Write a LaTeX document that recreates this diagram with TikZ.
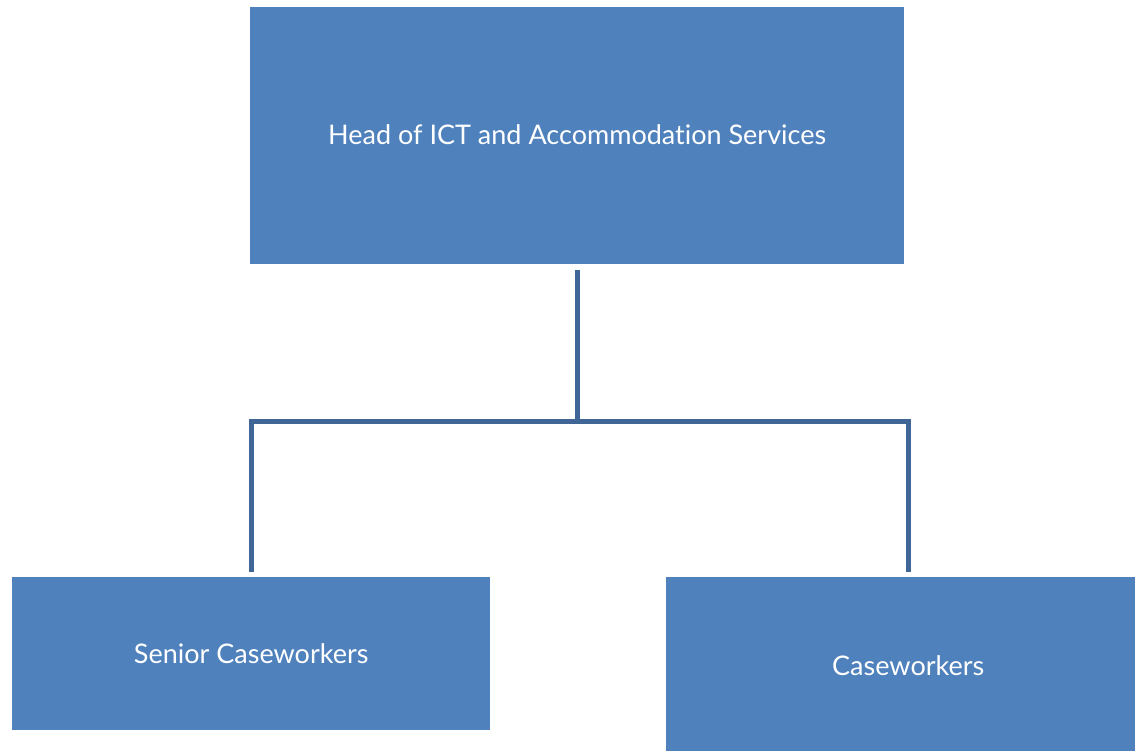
\documentclass[tikz,border=0pt]{standalone}
\usepackage{fontspec}
\setmainfont[Ligatures={NoCommon,NoRare}]{Lato}
\usetikzlibrary{calc}
\definecolor{boxblue}{HTML}{4F81BD}
\definecolor{lineblue}{HTML}{3F6696}
\begin{document}
\begin{tikzpicture}[x=1pt,y=-1pt,
  orgbox/.style={fill=boxblue,draw=none,text=white,inner sep=0pt,
    font=\fontsize{27}{32}\selectfont,anchor=north west},
  conn/.style={draw=lineblue,line width=4.8pt}]
\useasboundingbox (0,0) rectangle (1135,750);
\node[orgbox,minimum width=654pt,minimum height=257pt] (head) at (250,7)
  {\raisebox{3pt}{Head of ICT and Accommodation Services}};
\node[orgbox,minimum width=478pt,minimum height=153pt] (senior) at (12,577)
  {Senior Caseworkers};
\node[orgbox,minimum width=484pt,minimum height=176pt] (case) at (666,577)
  {Caseworkers};
\coordinate (ht) at ($(head.south)+(0,6)$);
\coordinate (hm) at ($(ht)+(0,151)$);
\coordinate (lb) at ($(senior.north)+(0,-5)$);
\coordinate (rb) at ($(case.north)+(0,-5)$);
\coordinate (lt) at (lb |- hm);
\coordinate (rt) at (rb |- hm);
\draw[conn] (ht) -- (hm);
\draw[conn] (lb) -- (lt) -- (rt) -- (rb);
\end{tikzpicture}
\end{document}
